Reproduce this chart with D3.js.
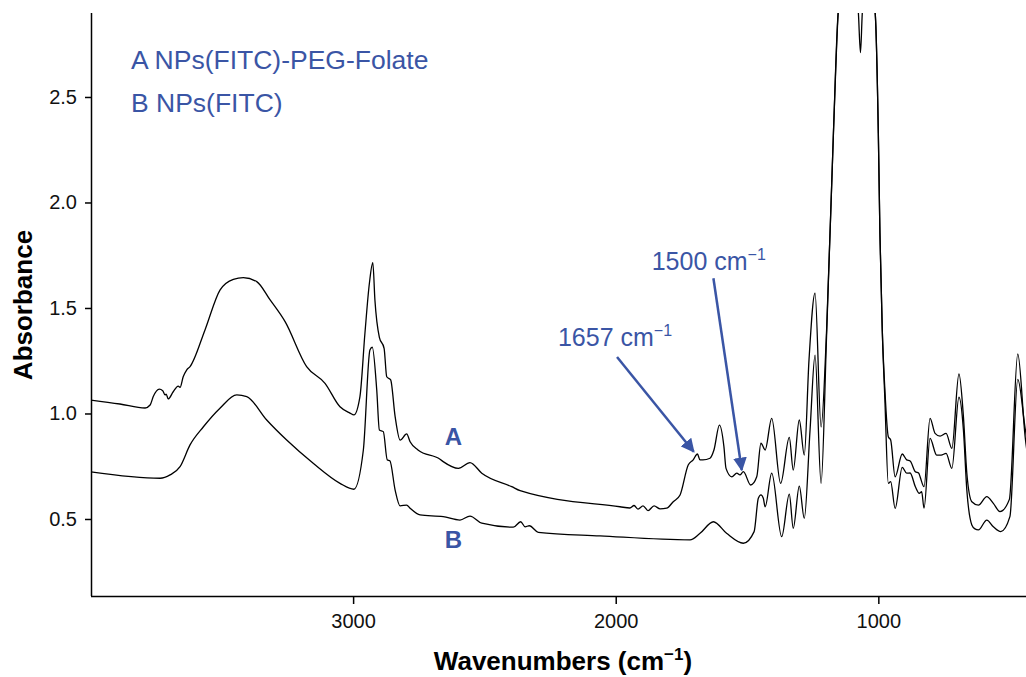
<!DOCTYPE html>
<html>
<head>
<meta charset="utf-8">
<script src="https://d3js.org/d3.v7.min.js"></script>
<style>
  body { margin: 0; background: #fff; }
  text { font-family: "Liberation Sans", Arial, sans-serif; }
</style>
</head>
<body>
<script>

//Spectrum A, NPs(FITC)-PEG-Folate
var wnA = [4000,3888,3792,3773,3761,3738,3725,3716,3712,3704,3685,3666,3659,3647,3634,3621,3564,3507,3456,3418,3367,3316,3259,3177,3107,3050,3012,2997,2974,2955,2938,2925,2917,2900,2882,2872,2857,2840,2821,2796,2783,2753,2669,2657,2599,2555,2510,2396,2364,1984,1946,1930,1915,1896,1877,1854,1831,1806,1781,1755,1724,1705,1689,1679,1668,1641,1626,1605,1588,1580,1558,1539,1527,1514,1486,1463,1447,1431,1406,1372,1339,1324,1301,1282,1264,1241,1218,1197,1171,1153,1130,1095,1076,1068,1061,1040,1012,1000,994,985,975,962,953,936,909,892,879,859,846,841,826,803,784,765,742,720,693,676,663,644,619,587,562,537,501,469,441,400];
var absA = [1.064,1.045,1.026,1.040,1.080,1.115,1.108,1.088,1.092,1.069,1.103,1.130,1.124,1.174,1.206,1.222,1.396,1.585,1.636,1.644,1.625,1.538,1.435,1.222,1.143,1.032,1.002,0.993,1.080,1.380,1.617,1.715,1.538,1.361,1.309,1.174,1.159,0.985,0.874,0.903,0.866,0.827,0.783,0.772,0.740,0.767,0.717,0.653,0.634,0.558,0.552,0.564,0.547,0.562,0.540,0.562,0.548,0.551,0.582,0.614,0.756,0.780,0.808,0.780,0.780,0.788,0.827,0.945,0.843,0.740,0.700,0.717,0.709,0.724,0.661,0.700,0.859,0.827,0.977,0.669,0.887,0.732,0.969,0.803,1.254,1.570,0.936,1.396,2.328,2.898,3.15,3.10,2.90,2.71,2.90,3.10,2.898,2.328,1.855,1.396,1.111,0.890,0.874,0.700,0.808,0.780,0.775,0.724,0.717,0.700,0.653,0.977,0.906,0.893,0.906,0.835,1.187,0.985,0.717,0.582,0.566,0.606,0.574,0.535,0.593,1.282,0.890,0.600];

//Spectrum B, NPs(FITC)
var wnB = [4000,3735,3697,3659,3621,3570,3507,3443,3405,3329,3253,3152,3050,2997,2961,2936,2927,2910,2900,2885,2870,2860,2840,2821,2796,2783,2745,2657,2593,2555,2510,2390,2362,2345,2329,2295,2060,1717,1679,1628,1578,1514,1473,1457,1447,1438,1431,1406,1368,1339,1324,1301,1282,1260,1241,1218,1197,1171,1153,1110,1050,1012,1000,994,985,975,962,953,936,909,892,879,859,844,835,826,803,778,761,742,720,693,676,663,644,632,619,587,562,534,499,469,441,400];
var absB = [0.724,0.693,0.709,0.748,0.851,0.937,1.025,1.088,1.080,0.969,0.874,0.764,0.669,0.641,0.827,1.301,1.314,1.111,0.922,0.914,0.780,0.776,0.637,0.562,0.566,0.551,0.519,0.511,0.495,0.514,0.480,0.461,0.487,0.463,0.468,0.437,0.420,0.401,0.432,0.487,0.432,0.385,0.440,0.598,0.614,0.598,0.558,0.717,0.416,0.618,0.456,0.656,0.503,0.922,1.277,0.669,1.372,2.328,2.898,3.20,3.20,2.898,2.328,1.855,1.396,1.064,0.669,0.677,0.550,0.745,0.717,0.718,0.653,0.622,0.629,0.551,0.882,0.803,0.803,0.811,0.740,1.077,0.922,0.637,0.472,0.453,0.448,0.495,0.463,0.440,0.511,1.162,0.930,0.620];

var xTicks = [3000, 2000, 1000];
var yTicks = [0.5, 1.0, 1.5, 2.0, 2.5];

var legendLines = ["A NPs(FITC)-PEG-Folate", "B NPs(FITC)"];

//curve letter labels: [label, wavenumber, absorbance]
var curveLabels = [["A", 2618, 0.851], ["B", 2618, 0.363]];

//arrows: [text, text wavenumber, text absorbance, from wn, from abs, to wn, to abs]
var arrows = [
	["1657", 2220, 1.32, 1995, 1.268, 1703, 0.819],
	["1500", 1863, 1.68, 1628, 1.641, 1520, 0.732]
];

var blue = "#3a55a5";
var width = 1026, height = 677;

var svg = d3.select("body").append("svg").attr("width", width).attr("height", height);

var x = d3.scaleLinear().domain([4000, 400]).range([90.5, 1035.9]);
var y = d3.scaleLinear().domain([0.135, 2.898]).range([596, 13]);

svg.append("defs").append("clipPath").attr("id", "plotclip")
	.append("rect").attr("x", 91).attr("y", 13).attr("width", 960).attr("height", 583);

var line = d3.line()
	.x(function(d) { return x(d[0]); })
	.y(function(d) { return y(d[1]); })
	.curve(d3.curveMonotoneX);

var plot = svg.append("g").attr("clip-path", "url(#plotclip)");

plot.append("path").datum(d3.zip(wnA, absA))
	.attr("d", line).attr("fill", "none").attr("stroke", "#000").attr("stroke-width", 1.3);
plot.append("path").datum(d3.zip(wnB, absB))
	.attr("d", line).attr("fill", "none").attr("stroke", "#000").attr("stroke-width", 1.3);

//Axes
var xAxis = svg.append("g").attr("transform", "translate(0,596)")
	.call(d3.axisBottom(x).tickValues(xTicks).tickSize(8).tickPadding(10).tickFormat(d3.format("d")));
var yAxis = svg.append("g").attr("transform", "translate(91,0)")
	.call(d3.axisLeft(y).tickValues(yTicks).tickSize(6).tickPadding(8).tickFormat(d3.format(".1f")));

xAxis.select(".domain").attr("d", "M91,0.5H1026");
yAxis.select(".domain").attr("d", "M0.5,13V596");
svg.selectAll(".domain").attr("stroke", "#000").attr("stroke-width", 1.5);
svg.selectAll(".tick line").attr("stroke", "#000").attr("stroke-width", 1.5);
svg.selectAll(".tick text").attr("font-size", 20).attr("fill", "#111")
	.style("font-family", "'Liberation Sans', Arial, sans-serif");

//Axis titles
svg.append("text").attr("transform", "translate(32,305) rotate(-90)")
	.attr("text-anchor", "middle").attr("font-size", 26).attr("font-weight", "bold")
	.text("Absorbance");

var xt = svg.append("text").attr("x", 563).attr("y", 670)
	.attr("text-anchor", "middle").attr("font-size", 26).attr("font-weight", "bold");
xt.append("tspan").text("Wavenumbers (cm");
xt.append("tspan").attr("dy", -10).attr("font-size", 17).text("\u22121");
xt.append("tspan").attr("dy", 10).text(")");

//Legend
svg.selectAll(".legend").data(legendLines).enter().append("text")
	.attr("x", 131).attr("y", function(d, i) { return 69 + i * 43; })
	.attr("font-size", 26.5).attr("fill", blue)
	.text(function(d) { return d; });

svg.selectAll(".clabel").data(curveLabels).enter().append("text")
	.attr("x", function(d) { return x(d[1]); })
	.attr("y", function(d) { return y(d[2]); })
	.attr("text-anchor", "middle").attr("font-size", 24).attr("font-weight", "bold").attr("fill", blue)
	.text(function(d) { return d[0]; });

//Arrows
svg.append("defs").append("marker").attr("id", "head")
	.attr("viewBox", "0 0 10 10").attr("refX", 9).attr("refY", 5)
	.attr("markerWidth", 5.5).attr("markerHeight", 5.5).attr("orient", "auto")
	.append("path").attr("d", "M0,0L10,5L0,10Z").attr("fill", blue);

arrows.forEach(function(a) {
	svg.append("line")
		.attr("x1", x(a[3])).attr("y1", y(a[4]))
		.attr("x2", x(a[5])).attr("y2", y(a[6]))
		.attr("stroke", blue).attr("stroke-width", 2.5).attr("marker-end", "url(#head)");
	var t = svg.append("text").attr("x", x(a[1])).attr("y", y(a[2]))
		.attr("font-size", 25).attr("fill", blue);
	t.append("tspan").text(a[0] + " cm");
	t.append("tspan").attr("dy", -10).attr("font-size", 16).text("\u22121");
});

</script>
</body>
</html>
